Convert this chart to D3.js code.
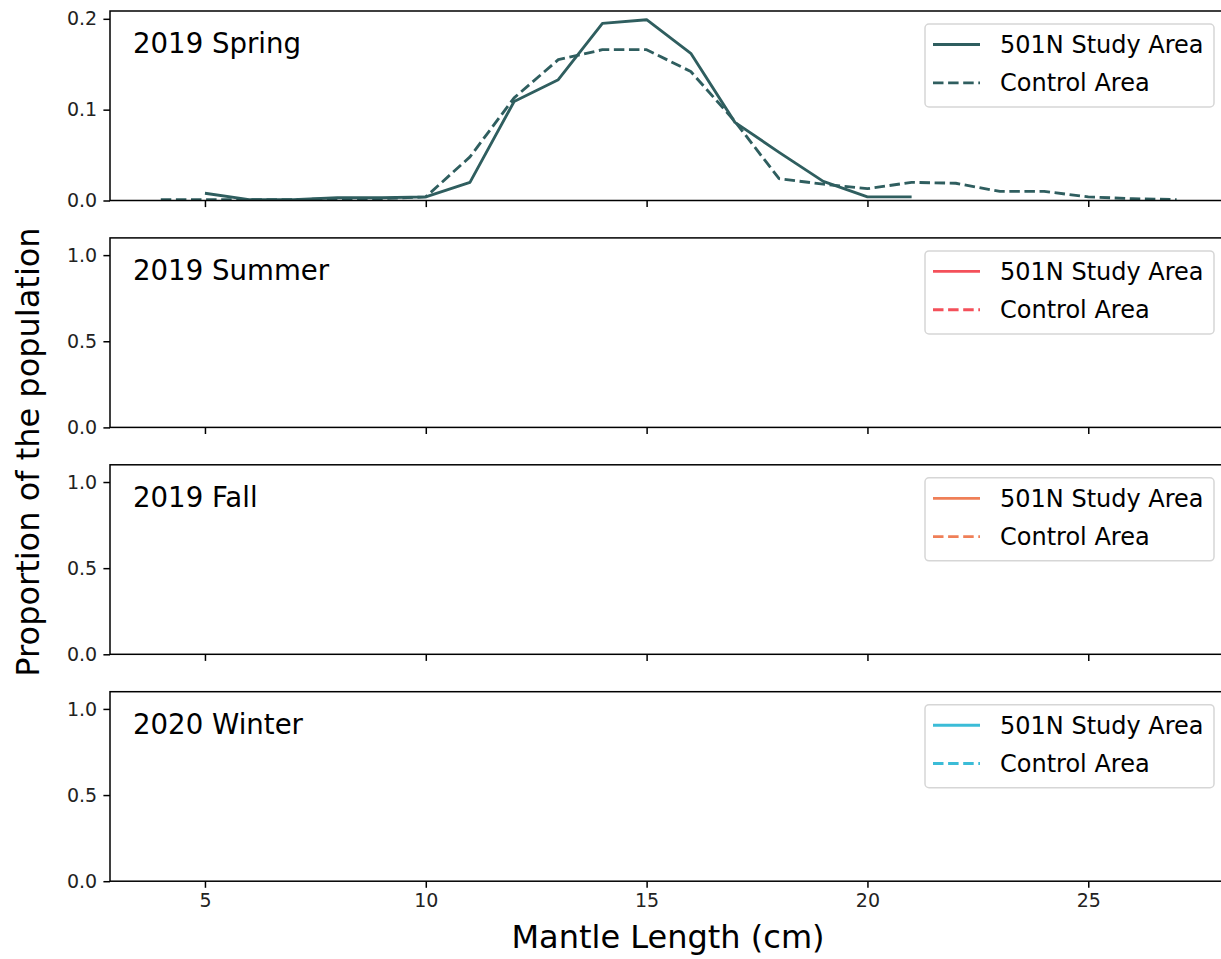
<!DOCTYPE html>
<html>
<head>
<meta charset="utf-8">
<script src="https://cdn.jsdelivr.net/npm/d3@7"></script>
<style>
  html, body { margin: 0; padding: 0; background: #ffffff; }
  svg { display: block; }
  text { font-family: "DejaVu Sans", sans-serif; }
</style>
</head>
<body>
<svg id="chart" width="1221" height="959"></svg>
<script>
// ---- data ----
const panelLabels = ["2019 Spring", "2019 Summer", "2019 Fall", "2020 Winter"];
const panelColors = ["#2f5e5f", "#f4505a", "#ef7f57", "#3bbcd7"];
const legendLabels = ["501N Study Area", "Control Area"];

// 2019 Spring (other seasons have no data drawn)
const springStudyX = [5, 6, 7, 8, 9, 10, 11, 12, 13, 14, 15, 16, 17, 18, 19, 20, 21];
const springStudyY = [0.008, 0.001, 0.001, 0.003, 0.003, 0.004, 0.020, 0.109, 0.133, 0.195, 0.199, 0.162, 0.086, 0.053, 0.021, 0.004, 0.004];
const springControlX = [4, 5, 6, 7, 8, 9, 10, 11, 12, 13, 14, 15, 16, 17, 18, 19, 20, 21, 22, 23, 24, 25, 26, 27];
const springControlY = [0.001, 0.001, 0.001, 0.001, 0.002, 0.002, 0.004, 0.048, 0.113, 0.155, 0.166, 0.166, 0.142, 0.087, 0.024, 0.018, 0.013, 0.020, 0.019, 0.010, 0.010, 0.004, 0.002, 0.001];
const emptyX = [];
const emptyY = [];

const studyXs = [springStudyX, emptyX, emptyX, emptyX];
const studyYs = [springStudyY, emptyY, emptyY, emptyY];
const controlXs = [springControlX, emptyX, emptyX, emptyX];
const controlYs = [springControlY, emptyY, emptyY, emptyY];

const xTicks = [5, 10, 15, 20, 25];
const yTicksTop = [0.0, 0.1, 0.2];
const yTicksOther = [0.0, 0.5, 1.0];
const yMaxes = [0.2086, 1.1, 1.1, 1.1];
const xDomain = [2.85, 28.15];

// ---- layout ----
const svg = d3.select("#chart");
const left = 110, right = 1227.4;
const panelTop0 = 11, panelStep = 226.9, panelH = 189.5;
const tickFont = 19, legendFont = 24, titleFont = 27.6, labelFont = 32;

const x = d3.scaleLinear().domain(xDomain).range([left, right]);

const defs = svg.append("defs");

panelLabels.forEach((label, i) => {
  const top = panelTop0 + i * panelStep;
  const bottom = top + panelH;
  const y = d3.scaleLinear().domain([0, yMaxes[i]]).range([bottom, top]);
  const color = panelColors[i];
  const g = svg.append("g");

  defs.append("clipPath").attr("id", "clip" + i)
    .append("rect").attr("x", left).attr("y", top).attr("width", right - left).attr("height", panelH);

  // lines
  const line = d3.line().x(d => x(d[0])).y(d => y(d[1]));
  const study = studyXs[i].map((v, k) => [v, studyYs[i][k]]);
  const control = controlXs[i].map((v, k) => [v, controlYs[i][k]]);
  const lg = g.append("g").attr("clip-path", `url(#clip${i})`);
  lg.append("path").datum(control).attr("d", line)
    .attr("fill", "none").attr("stroke", color).attr("stroke-width", 2.85)
    .attr("stroke-dasharray", "10.5,4.6").attr("stroke-linejoin", "round");
  lg.append("path").datum(study).attr("d", line)
    .attr("fill", "none").attr("stroke", color).attr("stroke-width", 2.85)
    .attr("stroke-linejoin", "round").attr("stroke-linecap", "butt");

  // axes
  const ya = d3.axisLeft(y).tickValues(i === 0 ? yTicksTop : yTicksOther)
    .tickFormat(d3.format(".1f")).tickSize(6.6).tickPadding(6.2);
  const yg = g.append("g").attr("transform", `translate(${left},0)`).call(ya);
  const xa = d3.axisBottom(x).tickValues(xTicks)
    .tickFormat(i === 3 ? d3.format("d") : () => "").tickSize(6.6).tickPadding(6.2);
  const xg = g.append("g").attr("transform", `translate(0,${bottom})`).call(xa);
  [yg, xg].forEach(a => {
    a.select(".domain").remove();
    a.selectAll(".tick line").attr("stroke", "#000").attr("stroke-width", 1.5);
    a.selectAll(".tick text").attr("fill", "#222").style("font-family", "DejaVu Sans")
      .style("font-size", tickFont + "px");
  });

  // frame
  g.append("rect").attr("x", left).attr("y", top).attr("width", right - left).attr("height", panelH)
    .attr("fill", "none").attr("stroke", "#000").attr("stroke-width", 1.5);

  // panel title
  g.append("text").attr("x", 133).attr("y", top + 42).attr("fill", "#000")
    .style("font-size", titleFont + "px").text(label);

  // legend
  const lx = 925, ly = top + 13;
  g.append("rect").attr("x", lx).attr("y", ly).attr("width", 289).attr("height", 83)
    .attr("rx", 4).attr("fill", "#ffffff").attr("fill-opacity", 0.8)
    .attr("stroke", "#d6d6d6").attr("stroke-width", 1.5);
  legendLabels.forEach((t, k) => {
    const yy = top + 33.5 + k * 38.3;
    g.append("line").attr("x1", 933).attr("x2", 980).attr("y1", yy).attr("y2", yy)
      .attr("stroke", color).attr("stroke-width", 2.85)
      .attr("stroke-dasharray", k === 1 ? "10.5,4.6" : null);
    g.append("text").attr("x", 1000).attr("y", yy + 8.6).attr("fill", "#000")
      .style("font-size", legendFont + "px").text(t);
  });
});

// axis labels
svg.append("text").attr("x", 668).attr("y", 948).attr("text-anchor", "middle")
  .attr("fill", "#000").style("font-size", labelFont + "px").text("Mantle Length (cm)");
svg.append("text").attr("transform", "translate(39,452) rotate(-90)").attr("text-anchor", "middle")
  .attr("fill", "#000").style("font-size", labelFont + "px").text("Proportion of the population");
</script>
</body>
</html>
